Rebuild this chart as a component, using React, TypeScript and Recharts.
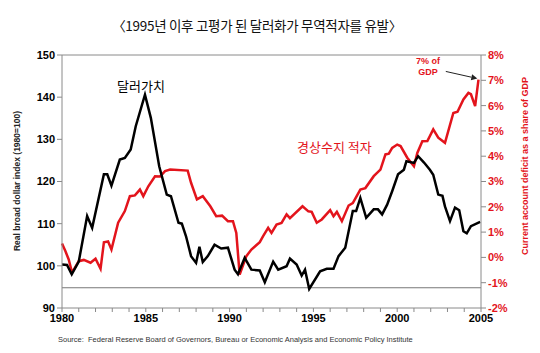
import React from "react";
import { ComposedChart, Line, XAxis, YAxis, ReferenceLine } from "recharts";

const dollarYears = [
  1980.0, 1980.3, 1980.58, 1981.0, 1981.5, 1981.8, 1982.5, 1982.7, 1982.95, 1983.45,
  1983.75, 1984.1, 1984.4, 1984.95, 1985.3, 1985.8, 1986.25, 1986.5, 1986.95, 1987.15,
  1987.4, 1987.7, 1988.0, 1988.2, 1988.4, 1988.7, 1989.1, 1989.5, 1989.9, 1990.3,
  1990.5, 1990.9, 1991.3, 1991.8, 1992.1, 1992.6, 1992.9, 1993.4, 1993.6, 1994.0,
  1994.3, 1994.5, 1994.75, 1995.4, 1995.8, 1996.2, 1996.5, 1996.9, 1997.35, 1997.55,
  1997.8, 1998.15, 1998.6, 1998.85, 1999.1, 1999.4, 1999.7, 2000.05, 2000.4, 2000.55,
  2001.0, 2001.25, 2001.6, 2001.95, 2002.15, 2002.45, 2002.7, 2002.85, 2003.15, 2003.45,
  2003.7, 2003.95, 2004.15, 2004.4, 2004.95,
];
const dollarIndex = [
  100.3, 100.2, 98, 101, 111.8, 109, 121.7, 121.7, 119, 125.2,
  125.6, 127.6, 133.1, 140.6, 135.1, 123.6, 116.9, 116.5, 110.2, 110,
  107, 102.3, 100.7, 104.5, 100.9, 102.3, 105, 104.1, 104.3, 99.1,
  98, 101.9, 99.1, 98.9, 96.1, 101, 99.1, 99.9, 101.7, 100.3,
  97.7, 99.1, 94.5, 98.7, 99.3, 99.3, 102.3, 104.3, 113, 113,
  116.1, 111.4, 113.4, 113.4, 112.2, 114.5, 117.7, 121.7, 122.8, 124.8,
  124.4, 126, 124.5, 122.8, 121.6, 116.9, 116.6, 114.1, 110.6, 113.8,
  113.2, 108.2, 107.7, 109.4, 110.4,
];

// current account deficit, % of GDP
const deficitYears = [
  1980.0, 1980.2, 1980.4, 1980.6, 1981.0, 1981.3, 1981.7, 1982.0, 1982.3, 1982.5,
  1982.75, 1982.95, 1983.35, 1983.75, 1984.05, 1984.35, 1984.65, 1984.85, 1985.15, 1985.55,
  1985.85, 1986.15, 1986.45, 1987.5, 1987.7, 1988.05, 1988.4, 1988.85, 1989.2, 1989.55,
  1989.9, 1990.2, 1990.4, 1990.6, 1991.0, 1991.3, 1991.8, 1992.0, 1992.3, 1992.5,
  1992.8, 1993.1, 1993.4, 1993.6, 1994.35, 1994.7, 1994.9, 1995.2, 1995.5, 1996.0,
  1996.2, 1996.4, 1996.7, 1997.1, 1997.35, 1997.8, 1998.1, 1998.6, 1999.0, 1999.3,
  1999.5, 1999.7, 2000.0, 2000.2, 2000.6, 2001.0, 2001.2, 2001.5, 2001.8, 2002.15,
  2002.45, 2002.85, 2003.35, 2003.6, 2003.95, 2004.25, 2004.4, 2004.65, 2004.85,
];
const deficitPct = [
  0.55, 0.25, -0.08, -0.6, -0.15, -0.1, -0.21, -0.05, -0.45, 0.6,
  0.63, 0.31, 1.37, 1.83, 2.42, 2.45, 2.68, 2.42, 2.81, 3.21,
  3.2, 3.41, 3.47, 3.43, 2.95, 2.29, 2.42, 2.02, 1.63, 1.65,
  1.43, 1.43, 0.97, -0.68, 0.05, 0.31, 0.6, 0.84, 1.17, 0.97,
  1.3, 1.36, 1.7, 1.55, 2.02, 1.82, 1.8, 1.37, 1.5, 1.87,
  1.63, 1.8, 1.43, 2.05, 2.15, 2.68, 2.74, 3.21, 3.47, 4.07,
  4.1, 4.33, 4.46, 4.4, 3.94, 3.6, 4.13, 4.59, 4.6, 5.06,
  4.73, 4.53, 5.71, 5.76, 6.24, 6.5, 6.45, 5.98, 7.03,
];

const yearTicks = [1980, 1981, 1982, 1983, 1984, 1985, 1986, 1987, 1988, 1989, 1990, 1991, 1992,
  1993, 1994, 1995, 1996, 1997, 1998, 1999, 2000, 2001, 2002, 2003, 2004, 2005];
const leftTicks = [90, 100, 110, 120, 130, 140, 150];
const rightTicks = [-2, -1, 0, 1, 2, 3, 4, 5, 6, 7, 8];
const baseLevel = 94.8;

const dollarData = dollarYears.map((t, i) => ({ t, v: dollarIndex[i] }));
const deficitData = deficitYears.map((t, i) => ({ t, v: deficitPct[i] }));

const RED = "#e3141c";
const AX = "#8a8a8a";
const SANS = "Arial, 'Liberation Sans', sans-serif";
const KR = "'Noto Sans CJK KR', sans-serif";

const arrowShape = (p: any) => {
  const { x1, y1, x2, y2 } = p;
  const a = Math.atan2(y2 - y1, x2 - x1);
  const L = 6, W = 3;
  const bx = x2 - L * Math.cos(a), by = y2 - L * Math.sin(a);
  const pts = `${x2},${y2} ${bx - W * Math.sin(a)},${by + W * Math.cos(a)} ${bx + W * Math.sin(a)},${by - W * Math.cos(a)}`;
  return (
    <g>
      <line x1={x1} y1={y1} x2={bx} y2={by} stroke="#222" strokeWidth={1} />
      <polygon points={pts} fill="#222" />
    </g>
  );
};

export default function App() {
  return (
    <div style={{ position: "absolute", left: 0, top: 0, width: 540, height: 353, background: "#fff" }}>
      <div style={{ position: "absolute", left: 0, top: 15, width: 514, textAlign: "center", fontFamily: KR, fontSize: 13.5, color: "#111", letterSpacing: -0.3 }}>
        〈1995년 이후 고평가 된 달러화가 무역적자를 유발〉
      </div>
      <ComposedChart width={540} height={353} margin={{ top: 55, right: 0, bottom: 25, left: 0 }}>
        <XAxis
          dataKey="t"
          type="number"
          domain={[1980, 2005]}
          ticks={yearTicks}
          interval={0}
          allowDuplicatedCategory={false}
          height={20}
          stroke={AX}
          tickSize={4}
          tick={{ fill: "#000", fontSize: 11, fontWeight: 700, fontFamily: SANS }}
          tickFormatter={(v: number) => (v % 5 === 0 ? String(v) : "")}
        />
        <YAxis
          yAxisId="l"
          domain={[90, 150]}
          ticks={leftTicks}
          width={62}
          stroke={AX}
          tickSize={5}
          tick={{ fill: "#000", fontSize: 11, fontWeight: 700, fontFamily: SANS }}
        />
        <YAxis
          yAxisId="r"
          orientation="right"
          domain={[-2, 8]}
          ticks={rightTicks}
          width={59}
          stroke={AX}
          tickSize={5}
          tick={{ fill: RED, fontSize: 11, fontWeight: 700, fontFamily: SANS }}
          tickFormatter={(v: number) => `${v}%`}
        />
        <ReferenceLine yAxisId="l" y={150} stroke={AX} strokeWidth={1} />
        <ReferenceLine yAxisId="l" y={baseLevel} stroke="#777" strokeWidth={1} />
        <Line yAxisId="r" data={deficitData} dataKey="v" type="linear" stroke={RED} strokeWidth={2.5} dot={false} isAnimationActive={false} />
        <Line yAxisId="l" data={dollarData} dataKey="v" type="linear" stroke="#000" strokeWidth={2.5} dot={false} isAnimationActive={false} />
        <ReferenceLine yAxisId="r" segment={[{ x: 2002.9, y: 7.35 }, { x: 2004.78, y: 7.07 }]} shape={arrowShape} ifOverflow="visible" />
      </ComposedChart>
      <div style={{ position: "absolute", left: 117, top: 76, fontFamily: KR, fontSize: 13, color: "#000" }}>달러가치</div>
      <div style={{ position: "absolute", left: 297, top: 137, fontFamily: KR, fontSize: 13, color: RED }}>경상수지 적자</div>
      <div style={{ position: "absolute", left: 408, top: 56, width: 40, textAlign: "center", fontFamily: SANS, fontSize: 9, fontWeight: 700, color: RED, lineHeight: "11px" }}>
        7% of<br />GDP
      </div>
      <div style={{ position: "absolute", left: 17, top: 181, width: 0, height: 0 }}>
        <div style={{ position: "absolute", transform: "translate(-50%, -50%) rotate(-90deg)", whiteSpace: "nowrap", fontFamily: SANS, fontSize: 8.5, fontWeight: 700, color: "#222" }}>
          Real broad dollar index (1980=100)
        </div>
      </div>
      <div style={{ position: "absolute", left: 525, top: 166, width: 0, height: 0 }}>
        <div style={{ position: "absolute", transform: "translate(-50%, -50%) rotate(-90deg)", whiteSpace: "nowrap", fontFamily: SANS, fontSize: 9, fontWeight: 700, color: RED }}>
          Current account deficit as a share of GDP
        </div>
      </div>
      <div style={{ position: "absolute", left: 58, top: 335, fontFamily: SANS, fontSize: 7.5, color: "#333", whiteSpace: "nowrap" }}>
        Source:&nbsp; Federal Reserve Board of Governors, Bureau or Economic Analysis and Economic Policy Institute
      </div>
    </div>
  );
}
